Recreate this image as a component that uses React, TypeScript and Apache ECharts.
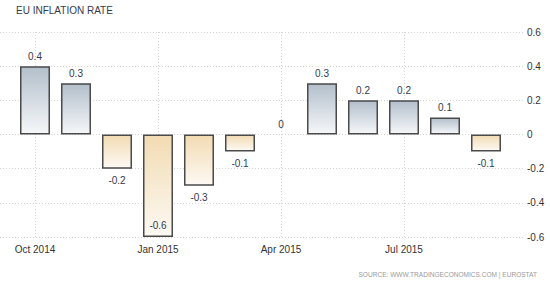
import React, { useEffect, useRef } from "react";
import * as echarts from "echarts";

const months = [
  "Oct 2014", "Nov 2014", "Dec 2014", "Jan 2015", "Feb 2015", "Mar 2015",
  "Apr 2015", "May 2015", "Jun 2015", "Jul 2015", "Aug 2015", "Sep 2015",
];
const inflation = [0.4, 0.3, -0.2, -0.6, -0.3, -0.1, 0, 0.3, 0.2, 0.2, 0.1, -0.1];
const yTicks = [-0.6, -0.4, -0.2, 0, 0.2, 0.4, 0.6];
const title = "EU INFLATION RATE";
const source = "SOURCE: WWW.TRADINGECONOMICS.COM | EUROSTAT";

const FONT = "Liberation Sans";

function measure(text: string, font: string): number {
  const c = document.createElement("canvas").getContext("2d");
  if (!c) return 0;
  c.font = font;
  return c.measureText(text).width;
}

export default function App() {
  const ref = useRef<HTMLDivElement>(null);
  useEffect(() => {
    if (!ref.current) return;
    const chart = echarts.init(ref.current, undefined, { renderer: "svg" });
    const yMin = yTicks[0];
    const yMax = yTicks[yTicks.length - 1];
    const posFill = new echarts.graphic.LinearGradient(0, 0, 0, 1, [
      { offset: 0, color: "#b3bfcb" },
      { offset: 1, color: "#f5f7f9" },
    ]);
    const negFill = new echarts.graphic.LinearGradient(0, 0, 0, 1, [
      { offset: 0, color: "#f2dbb3" },
      { offset: 1, color: "#fdf9f3" },
    ]);
    const data = inflation.map((v) => ({
      value: v,
      itemStyle: {
        color: v < 0 ? negFill : posFill,
        borderWidth: v === 0 ? 0 : 1.5,
      },
      label: {
        position: v < 0 ? (v <= yMin ? "insideBottom" : "bottom") : "top",
        distance: v < 0 ? 7 : 5,
      },
    }));
    const srcW = measure(source, `8px "${FONT}"`) || 179;
    chart.setOption({
      animation: false,
      backgroundColor: "#ffffff",
      graphic: [
        {
          type: "text",
          x: 16,
          y: 10,
          style: {
            text: title,
            fontFamily: FONT,
            fontSize: 10,
            fill: "#333a4d",
            verticalAlign: "middle",
          },
        },
        {
          type: "text",
          x: 537,
          y: 274,
          scaleX: 179 / srcW,
          style: {
            text: source,
            fontFamily: FONT,
            fontSize: 8,
            fill: "#9a9a9a",
            align: "right",
            verticalAlign: "middle",
          },
        },
      ],
      grid: [
        { left: 14.5, right: 43.5, top: 32, bottom: 49 },
        { left: 0, right: 25, top: 32, bottom: 49 },
      ],
      xAxis: [
        {
          type: "category",
          gridIndex: 0,
          data: months,
          axisLine: { show: false },
          axisTick: { show: false },
          axisLabel: {
            interval: (i: number) => i % 3 === 0,
            margin: 7,
            fontFamily: FONT,
            fontSize: 10,
            color: "#333",
          },
          splitLine: {
            show: true,
            alignWithLabel: true,
            interval: (i: number) => i % 3 === 0,
            lineStyle: { color: "#d4d4d4", type: [1, 2], width: 1 },
          },
        },
        { type: "value", gridIndex: 1, show: false, min: 0, max: 1 },
      ],
      yAxis: [
        { type: "value", gridIndex: 0, min: yMin, max: yMax, show: false },
        {
          type: "value",
          gridIndex: 1,
          position: "right",
          min: yMin,
          max: yMax,
          interval: 0.2,
          axisLine: { show: false },
          axisTick: { show: false },
          axisLabel: {
            margin: 2,
            align: "left",
            fontFamily: FONT,
            fontSize: 10,
            color: "#333",
            formatter: (v: number) => String(Math.round(v * 10) / 10),
          },
          splitLine: { show: true, lineStyle: { color: "#d4d4d4", type: [1, 2], width: 1 } },
        },
      ],
      series: [
        {
          type: "bar",
          xAxisIndex: 0,
          yAxisIndex: 0,
          data,
          barWidth: 30,
          itemStyle: { borderColor: "#4a4a4a", borderWidth: 1.5 },
          label: {
            show: true,
            fontFamily: FONT,
            fontSize: 10,
            color: "#333a4d",
            formatter: (p: any) => String(p.value),
          },
        },
      ],
    });
    return () => chart.dispose();
  }, []);
  return <div ref={ref} style={{ width: 550, height: 286, position: "absolute", left: 0, top: 0 }} />;
}
